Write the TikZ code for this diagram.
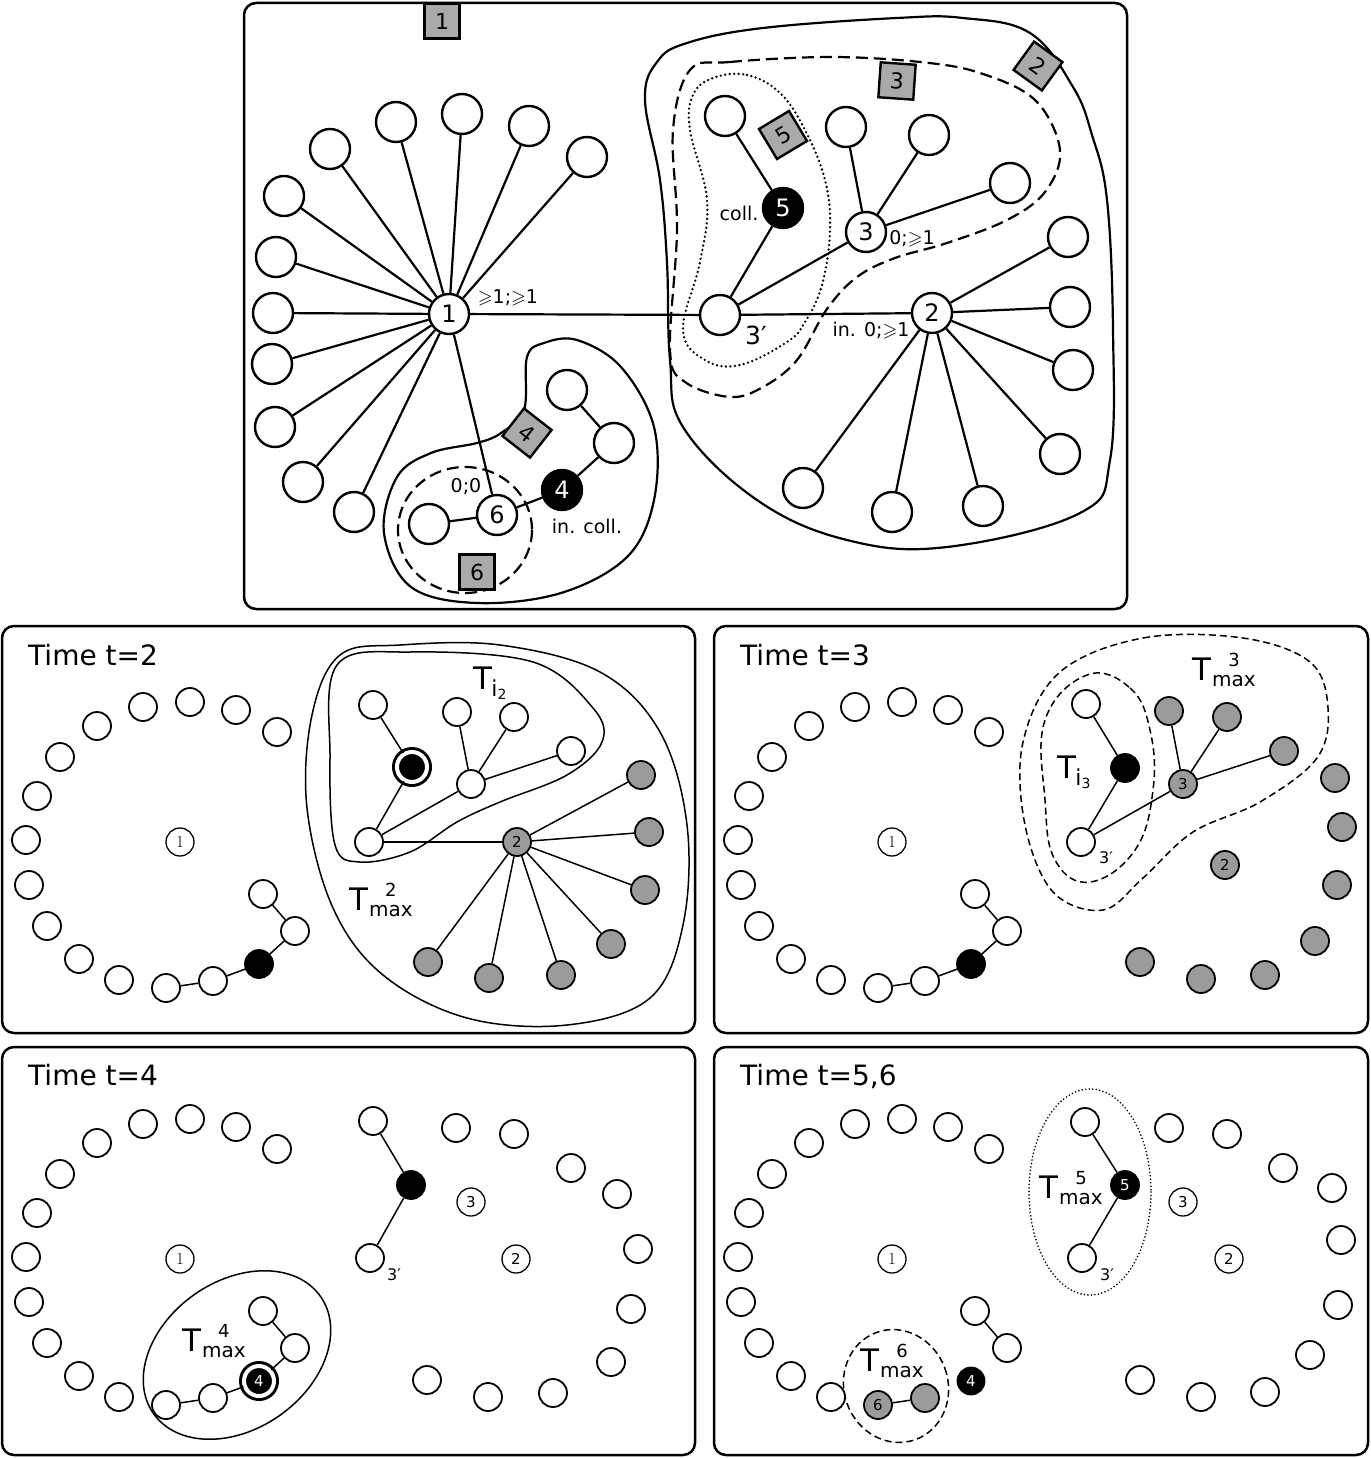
\documentclass[tikz,border=0pt]{standalone}
\usepackage{fontspec}
\setmainfont{DejaVu Sans}
\usepackage{amssymb}
\definecolor{sqgray}{RGB}{170,170,170}
\definecolor{ndgray}{RGB}{155,155,155}
\newcommand\fs[1]{\fontsize{#1}{#1}\selectfont}
\newcommand\gsl{$\geqslant$}
\newcommand\pr{′}
\newcommand\lmone{\fontfamily{lmr}\selectfont}
\newcommand\Tsub[1]{T\kern-1pt\raisebox{-7pt}{\fs{22}i\raisebox{-3pt}{\fs{14}#1}}}
\newcommand\Tmx[1]{T\kern1pt\raisebox{-6pt}{\fs{20}\begin{tabular}[b]{@{}c@{}}{\fs{18}#1}\\max\end{tabular}}}
\tikzset{
  frame/.style={line width=2.5pt,rounded corners=12pt},
  bignode/.style={circle,draw,line width=2.4pt,minimum size=40pt,inner sep=0pt,fill=white,font=\fs{24}},
  bigblack/.style={bignode,fill=black,text=white},
  tedge/.style={line width=2.2pt},
  sqbox/.style={draw,fill=sqgray,line width=2.4pt,minimum size=35pt,inner sep=0pt,font=\fs{22}},
  toplbl/.style={inner sep=0pt,font=\fs{19}},
  smnode/.style={circle,draw,line width=1.8pt,minimum size=28pt,inner sep=0pt,fill=white},
  smblack/.style={smnode,fill=black},
  smgray/.style={smnode,fill=ndgray,font=\fs{15}},
  dblack/.style={circle,draw=black,double=white,double distance=4pt,line width=3pt,fill=black,minimum size=30pt,inner sep=0pt,text=white,font=\fs{15}},
  onenode/.style={circle,draw,line width=1.3pt,minimum size=28pt,inner sep=0pt,fill=white,font=\fs{17}},
  numnode/.style={circle,draw,line width=1.3pt,minimum size=28pt,inner sep=0pt,fill=white,font=\fs{15}},
  ledge/.style={line width=1.5pt},
  llbl/.style={inner sep=0pt,font=\fs{16}},
  Tlbl/.style={inner sep=0pt,font=\fs{31}},
  timelbl/.style={inner sep=0pt,anchor=base west,font=\fs{28}},
  contour/.style={line width=1.5pt},
  dcontour/.style={line width=1.5pt,dash pattern=on 7pt off 4pt},
  dotcontour/.style={line width=1.8pt,dash pattern=on 0pt off 3.5pt,line cap=round},
}
\newcommand\leftring[1]{%
  \foreach \px/\py [count=\k] in {143/707,190/702,236/710,277/732,97/726,60/757,37/796,26/840,29/885,47/926,79/959,119/980}
    {\node[smnode] (#1r\k) at (\px,\py) {};}
  \node[onenode] (#1one) at (180,842) {\lmone 1};
}
\begin{document}
\begin{tikzpicture}[x=1pt,y=-1pt]
\useasboundingbox (0,0) rectangle (1370,1458);
% ---------- frames
\draw[frame] (244,3) rectangle (1127,609);
\draw[frame] (2,626) rectangle (695,1033);
\draw[frame] (714,626) rectangle (1368,1033);
\draw[frame] (2,1047) rectangle (695,1455);
\draw[frame] (714,1047) rectangle (1368,1455);

% ---------- top panel contours
\draw[line width=2.2pt] plot[smooth cycle,tension=0.65] coordinates {(687,43) (763,28) (897,18) (963,18) (1030,33) (1073,87) (1092,135) (1107,200) (1113,330) (1110,460) (1080,513) (947,547) (847,540) (757,500) (683,427) (670,360) (667,263) (660,180) (645,100) (657,62)};
\draw[line width=2.2pt,dash pattern=on 12pt off 6pt] plot[smooth cycle,tension=0.6] coordinates {(690,70) (730,62) (830,57) (920,62) (980,73) (1035,100) (1060,150) (1045,192) (1007,220) (947,243) (895,258) (857,277) (827,309) (797,360) (763,387) (730,397) (685,382) (670,350) (677,230) (673,130)};
\draw[line width=2.6pt,dash pattern=on 0pt off 4.5pt,line cap=round] plot[smooth cycle,tension=0.65] coordinates {(713,78) (747,75) (780,93) (805,130) (825,180) (830,230) (822,285) (805,322) (787,342) (740,365) (705,360) (683,330) (700,262) (707,200) (690,130) (693,95)};
\draw[line width=2.2pt] plot[smooth cycle,tension=0.6] coordinates {(501,433) (524,410) (527,357) (544,343) (577,340) (621,367) (654,427) (654,500) (627,557) (561,593) (477,603) (411,587) (384,533) (397,477) (431,453) (477,443)};
\draw[line width=2.2pt,dash pattern=on 12pt off 6pt] (465,530) ellipse [x radius=67,y radius=63];

% ---------- top panel graph
\node[bignode] (n1) at (449,314) {1};
\foreach \px/\py [count=\k] in {396/122,462/114,529/126,587/157,330/149,284/196,276/257,273/313,272/364,275/427,303/482,354/512}
  {\node[bignode] (a\k) at (\px,\py) {}; \draw[tedge] (n1) -- (a\k);}
\node[bignode] (n6) at (497,515) {6};
\node[bignode] (w6) at (429,524) {};
\node[bigblack] (n4) at (562,490) {4};
\node[bignode] (w4a) at (614,443) {};
\node[bignode] (w4b) at (567,390) {};
\draw[tedge] (n1) -- (n6);
\draw[tedge] (w6) -- (n6) -- (n4) -- (w4a) -- (w4b);
\node[bignode] (n3p) at (720,315) {};
\node[bigblack] (n5) at (783,208) {5};
\node[bignode] (w5) at (725,116) {};
\node[bignode] (n3) at (866,232) {3};
\node[bignode] (b1) at (846,127) {};
\node[bignode] (b2) at (929,135) {};
\node[bignode] (b3) at (1010,183) {};
\draw[tedge] (w5) -- (n5) -- (n3p) -- (n3);
\foreach \k in {1,2,3} {\draw[tedge] (n3) -- (b\k);}
\node[bignode] (n2) at (932,313) {2};
\draw[tedge] (n1) -- (n3p) -- (n2);
\foreach \px/\py [count=\k] in {1068/237,1070/307,1073/370,1060/454,983/506,892/512,803/488}
  {\node[bignode] (c\k) at (\px,\py) {}; \draw[tedge] (n2) -- (c\k);}
% labels
\node[toplbl] (t1) at (508,298) {\gsl1;\gsl1};
\node[toplbl] (t2) at (739,213) {coll.};
\node[inner sep=0pt,font=\fs{25}] (t3) at (756,335) {3\pr};
\node[toplbl] (t4) at (912,239) {0;\gsl1};
\node[toplbl] (t5) at (871,331) {in. 0;\gsl1};
\node[toplbl] (t6) at (466,487) {0;0};
\node[toplbl] (t7) at (587,526) {in. coll.};
% squares
\node[sqbox] (s1) at (442,21) {1};
\node[sqbox,rotate=-36] (s2) at (1038,66) {2};
\node[sqbox,rotate=-4] (s3) at (897,81) {3};
\node[sqbox,rotate=-38] (s4) at (527,433) {4};
\node[sqbox,rotate=31] (s5) at (783,135) {5};
\node[sqbox] (s6) at (477,572) {6};

% ---------- panel t=2
\node[timelbl] (time2) at (28,665) {Time t=2};
\draw[contour] plot[smooth cycle,tension=0.6] coordinates {(340,655) (400,645) (500,645) (600,672) (660,732) (687,825) (683,925) (650,998) (567,1025) (467,1018) (383,975) (333,908) (307,808) (312,715)};
\draw[contour] plot[smooth cycle,tension=0.6] coordinates {(337,665) (410,652) (533,662) (593,708) (602,742) (567,775) (500,802) (457,822) (410,852) (360,862) (335,845) (330,758)};
\leftring{p2}
\node[smnode] (p2a) at (166,988) {};
\node[smnode] (p2b) at (213,981) {};
\node[smblack] (p2c) at (259,964) {};
\node[smnode] (p2d) at (295,931) {};
\node[smnode] (p2e) at (263,894) {};
\draw[ledge] (p2a) -- (p2b) -- (p2c) -- (p2d) -- (p2e);
\node[smnode] (p2w1) at (373,705) {};
\node[dblack] (p2k) at (412,767) {};
\node[smnode] (p2x) at (369,842) {};
\node[smnode] (p2m) at (471,784) {};
\node[smnode] (p2w2) at (457,712) {};
\node[smnode] (p2w3) at (514,717) {};
\node[smnode] (p2w4) at (571,751) {};
\node[smgray] (p2two) at (517,842) {2};
\draw[ledge] (p2w1) -- (p2k) -- (p2x) -- (p2m) -- (p2w2);
\draw[ledge] (p2m) -- (p2w3);
\draw[ledge] (p2m) -- (p2w4);
\draw[ledge] (p2x) -- (p2two);
\foreach \px/\py [count=\k] in {641/775,649/832,645/890,611/944,561/975,489/978,428/962}
  {\node[smgray] (p2g\k) at (\px,\py) {}; \draw[ledge] (p2two) -- (p2g\k);}
\node[Tlbl] (p2T1) at (490,683) {\Tsub{2}};
\node[Tlbl] (p2T2) at (381,902) {\Tmx{2}};

% ---------- panel t=3
\node[timelbl] (time3) at (740,665) {Time t=3};
\draw[dcontour] plot[smooth cycle,tension=0.6] coordinates {(1060,672) (1143,638) (1243,638) (1310,662) (1328,708) (1317,758) (1260,802) (1193,832) (1143,878) (1103,910) (1053,892) (1025,825) (1023,742)};
\draw[dcontour] plot[smooth cycle,tension=0.7] coordinates {(1087,675) (1130,688) (1150,730) (1153,790) (1135,850) (1090,882) (1055,860) (1045,800) (1045,720)};
\begin{scope}[shift={(712,0)}]
\leftring{p3}
\node[smnode] (p3a) at (166,988) {};
\node[smnode] (p3b) at (213,981) {};
\node[smblack] (p3c) at (259,964) {};
\node[smnode] (p3d) at (295,931) {};
\node[smnode] (p3e) at (263,894) {};
\draw[ledge] (p3a) -- (p3b) -- (p3c) -- (p3d) -- (p3e);
\end{scope}
\node[smnode] (p3w1) at (1086,704) {};
\node[smblack] (p3k) at (1125,768) {};
\node[smnode] (p3x) at (1081,842) {};
\node[smgray] (p3three) at (1183,784) {3};
\node[smgray] (p3w2) at (1169,711) {};
\node[smgray] (p3w3) at (1227,717) {};
\node[smgray] (p3w4) at (1284,751) {};
\draw[ledge] (p3w1) -- (p3k) -- (p3x) -- (p3three) -- (p3w2);
\draw[ledge] (p3three) -- (p3w3);
\draw[ledge] (p3three) -- (p3w4);
\node[smgray] (p3two) at (1225,865) {2};
\foreach \px/\py [count=\k] in {1335/778,1342/827,1337/885,1315/941,1265/975,1201/979,1140/962}
  {\node[smgray] (p3g\k) at (\px,\py) {};}
\node[llbl] (p3q) at (1106,858) {3\pr};
\node[Tlbl] (p3T1) at (1074,772) {\Tsub{3}};
\node[Tlbl] (p3T2) at (1224,672) {\Tmx{3}};

% ---------- panel t=4
\node[timelbl] (time4) at (28,1085) {Time t=4};
\draw[contour, rotate around={35:(237,1355)}] (237,1355) ellipse [x radius=102,y radius=74];
\begin{scope}[shift={(0,417)}]
\leftring{p4}
\node[smnode] (p4a) at (166,988) {};
\node[smnode] (p4b) at (213,981) {};
\node[dblack] (p4c) at (259,964) {4};
\node[smnode] (p4d) at (295,931) {};
\node[smnode] (p4e) at (263,894) {};
\draw[ledge] (p4a) -- (p4b) -- (p4c) -- (p4d) -- (p4e);
\end{scope}
\node[smnode] (p4w1) at (373,1121) {};
\node[smblack] (p4k) at (411,1185) {};
\node[smnode] (p4x) at (370,1258) {};
\draw[ledge] (p4w1) -- (p4k) -- (p4x);
\node[numnode] (p4three) at (471,1202) {3};
\node[numnode] (p4two) at (516,1259) {2};
\foreach \px/\py [count=\k] in {456/1128,514/1134,571/1168,617/1194,638/1249,631/1309,611/1362,553/1393,488/1397,427/1380}
  {\node[smnode] (p4g\k) at (\px,\py) {};}
\node[llbl] (p4q) at (394,1275) {3\pr};
\node[Tlbl] (p4T) at (214,1343) {\Tmx{4}};

% ---------- panel t=5,6
\node[timelbl] (time5) at (740,1085) {Time t=5,6};
\draw[dotcontour] (1090,1192) ellipse [x radius=61,y radius=103];
\draw[dcontour, rotate around={20:(896,1386)}] (896,1386) ellipse [x radius=52,y radius=57];
\begin{scope}[shift={(712,417)}]
\leftring{p5}
\node[smgray] (p5a) at (166,988) {6};
\node[smgray] (p5b) at (213,981) {};
\node[smblack,minimum size=27pt,text=white,font=\fs{15}] (p5c) at (259,964) {4};
\node[smnode] (p5d) at (295,931) {};
\node[smnode] (p5e) at (263,894) {};
\draw[ledge] (p5a) -- (p5b);
\draw[ledge] (p5d) -- (p5e);
\end{scope}
\node[smnode] (p5w1) at (1085,1122) {};
\node[smblack,text=white,font=\fs{15}] (p5k) at (1125,1185) {5};
\node[smnode] (p5x) at (1082,1258) {};
\draw[ledge] (p5w1) -- (p5k) -- (p5x);
\node[numnode] (p5three) at (1183,1202) {3};
\node[numnode] (p5two) at (1229,1259) {2};
\foreach \px/\py [count=\k] in {1169/1128,1227/1134,1283/1168,1332/1188,1341/1240,1338/1305,1310/1355,1265/1392,1201/1397,1140/1380}
  {\node[smnode] (p5g\k) at (\px,\py) {};}
\node[llbl] (p5q) at (1107,1275) {3\pr};
\node[Tlbl] (p5T1) at (1071,1190) {\Tmx{5}};
\node[Tlbl] (p5T2) at (892,1363) {\Tmx{6}};
\end{tikzpicture}
\end{document}
